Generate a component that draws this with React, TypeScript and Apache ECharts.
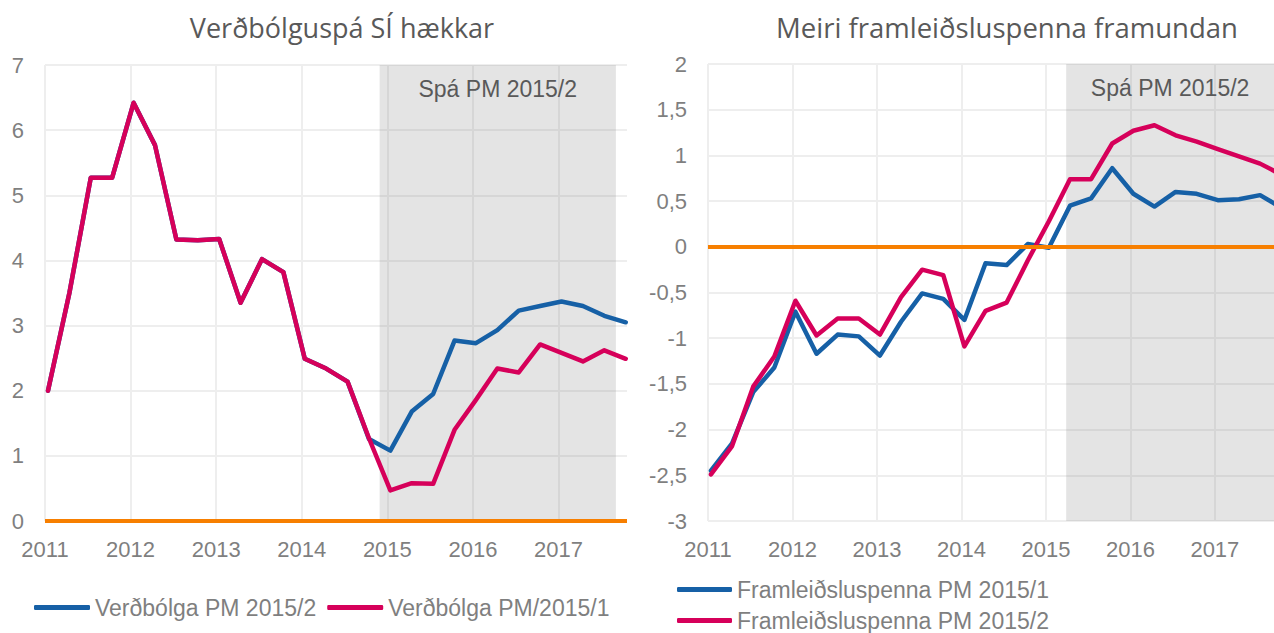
import React, { useEffect, useRef } from 'react';
import * as echarts from 'echarts';

const quarters = [
  '2011Q1', '2011Q2', '2011Q3', '2011Q4',
  '2012Q1', '2012Q2', '2012Q3', '2012Q4',
  '2013Q1', '2013Q2', '2013Q3', '2013Q4',
  '2014Q1', '2014Q2', '2014Q3', '2014Q4',
  '2015Q1', '2015Q2', '2015Q3', '2015Q4',
  '2016Q1', '2016Q2', '2016Q3', '2016Q4',
  '2017Q1', '2017Q2', '2017Q3', '2017Q4',
];

// Left chart: inflation (%)
const inflationPM2015_2 = [
  2.0, 3.5, 5.27, 5.27, 6.42, 5.77, 4.32, 4.31, 4.33, 3.35, 4.02, 3.82, 2.49, 2.34, 2.14, 1.26,
  1.08, 1.68, 1.95, 2.77, 2.73, 2.93, 3.23, 3.3, 3.37, 3.3, 3.15, 3.05,
];
const inflationPM2015_1 = [
  2.0, 3.5, 5.27, 5.27, 6.42, 5.77, 4.32, 4.31, 4.33, 3.35, 4.02, 3.82, 2.49, 2.34, 2.14, 1.27,
  0.47, 0.58, 0.57, 1.4, 1.86, 2.34, 2.28, 2.71, 2.58, 2.45, 2.62, 2.49,
];

// Right chart: output gap (%)
const outputGapPM2015_1 = [
  -2.45, -2.15, -1.59, -1.32, -0.71, -1.17, -0.96, -0.98, -1.19, -0.82, -0.51, -0.57, -0.8, -0.18,
  -0.2, 0.03, -0.01, 0.45, 0.53, 0.86, 0.58, 0.44, 0.6, 0.58, 0.51, 0.52, 0.565, 0.43,
];
const outputGapPM2015_2 = [
  -2.49, -2.18, -1.53, -1.2, -0.59, -0.97, -0.785, -0.785, -0.96, -0.55, -0.25, -0.31, -1.09, -0.7,
  -0.61, -0.15, 0.28, 0.74, 0.74, 1.13, 1.27, 1.33, 1.22, 1.15, 1.07, 0.99, 0.91, 0.79,
];

const leftTitle = 'Verðbólguspá SÍ hækkar';
const rightTitle = 'Meiri framleiðsluspenna framundan';
const forecastLabel = 'Spá PM 2015/2';
const leftNames = ['Verðbólga PM 2015/2', 'Verðbólga PM/2015/1'];
const rightNames = ['Framleiðsluspenna PM 2015/1', 'Framleiðsluspenna PM 2015/2'];

const leftXRange = [2011, 2017.8];
const rightXRange = [2011, 2017.7];
const leftForecastSpan = [2014.91, 2017.67];
const rightForecastSpan = [2015.24, 2017.7];

const BLUE = '#1660A6';
const PINK = '#D6005A';
const ORANGE = '#F77F00';
const GRID = '#EEEEEE';
const LABEL = '#7F7F7F';
const SHADE = 'rgba(128,128,128,0.21)';

function quarterPos(q: string): number {
  const y = Number(q.slice(0, 4));
  const n = Number(q.slice(5));
  return y + (n - 1) / 4 + 0.035;
}
function pairs(vals: number[]) {
  return quarters.map((q, i) => [quarterPos(q), vals[i]]);
}

const labelFont = { fontFamily: 'Liberation Sans', fontSize: 22, color: LABEL };
const legendText = { fontFamily: 'Liberation Sans', fontSize: 23, color: LABEL };

function xAxisFor(gridIndex: number, range: number[]) {
  return {
    type: 'value',
    gridIndex,
    min: range[0],
    max: range[1],
    interval: 1,
    axisLine: { show: false },
    axisTick: { show: false },
    splitLine: { show: true, showMaxLine: false, lineStyle: { color: GRID, width: 2 } },
    axisLabel: {
      ...labelFont,
      margin: 17,
      showMaxLabel: false,
      formatter: (v: number) => (Number.isInteger(v) ? String(v) : ''),
    },
  };
}

function legendFor(names: string[], left: number, top: number, itemWidth: number) {
  return {
    left,
    top,
    padding: 0,
    itemWidth,
    itemHeight: 5,
    icon: 'roundRect',
    itemGap: 11,
    selectedMode: false,
    textStyle: legendText,
    data: names,
  };
}

export default function App() {
  const ref = useRef<HTMLDivElement>(null);
  useEffect(() => {
    if (!ref.current) return;
    const chart = echarts.init(ref.current, undefined, { renderer: 'svg' });
    const lineSeries = (name: string, data: number[], color: string, axis: number) => ({
      type: 'line',
      name,
      xAxisIndex: axis,
      yAxisIndex: axis,
      data: pairs(data),
      showSymbol: false,
      symbol: 'none',
      z: 2,
      color,
      lineStyle: { color, width: 4.5, cap: 'round', join: 'round' },
      emphasis: { disabled: true },
    });
    const zeroLine = (axis: number) => ({
      type: 'line',
      name: 'zero' + axis,
      xAxisIndex: axis,
      yAxisIndex: axis,
      data: [],
      z: 1,
      markLine: {
        silent: true,
        symbol: ['none', 'none'],
        label: { show: false },
        lineStyle: { color: ORANGE, width: 4, type: 'solid' },
        emphasis: { disabled: true },
        data: [{ yAxis: 0 }],
      },
    });
    const shade = (axis: number, span: number[], yTop: number, yBottom: number) => ({
      type: 'line',
      name: 'shade' + axis,
      xAxisIndex: axis,
      yAxisIndex: axis,
      data: [],
      z: 4,
      markArea: {
        silent: true,
        itemStyle: { color: SHADE },
        emphasis: { disabled: true },
        label: {
          show: true,
          position: 'insideTop',
          distance: 12,
          color: '#595959',
          fontSize: 23,
          fontFamily: 'Liberation Sans',
        },
        data: [[{ xAxis: span[0], yAxis: yTop, name: forecastLabel }, { xAxis: span[1], yAxis: yBottom }]],
      },
    });
    chart.setOption({
      animation: false,
      grid: [
        { left: 45, top: 65, width: 582, height: 456 },
        { left: 708, top: 64, width: 566, height: 457 },
      ],
      xAxis: [xAxisFor(0, leftXRange), xAxisFor(1, rightXRange)],
      yAxis: [
        {
          type: 'value',
          gridIndex: 0,
          min: 0,
          max: 7,
          interval: 1,
          axisLine: { show: false },
          axisTick: { show: false },
          splitLine: { show: true, lineStyle: { color: GRID, width: 2 } },
          axisLabel: { ...labelFont, margin: 21 },
        },
        {
          type: 'value',
          gridIndex: 1,
          min: -3,
          max: 2,
          interval: 0.5,
          axisLine: { show: false },
          axisTick: { show: false },
          splitLine: { show: true, lineStyle: { color: GRID, width: 2 } },
          axisLabel: { ...labelFont, margin: 21, formatter: (v: number) => String(v).replace('.', ',') },
        },
      ],
      legend: [
        legendFor(leftNames, 34, 596, 56),
        legendFor([rightNames[0]], 677, 578, 55),
        legendFor([rightNames[1]], 677, 609, 55),
      ],
      graphic: [
        {
          type: 'text',
          x: 342,
          y: 27,
          style: {
            text: leftTitle,
            fill: '#595959',
            font: '27px "Open Sans"',
            align: 'center',
            verticalAlign: 'middle',
          },
        },
        {
          type: 'text',
          x: 1007,
          y: 27,
          style: {
            text: rightTitle,
            fill: '#595959',
            font: '27.5px "Open Sans"',
            align: 'center',
            verticalAlign: 'middle',
          },
        },
      ],
      series: [
        zeroLine(0),
        lineSeries(leftNames[0], inflationPM2015_2, BLUE, 0),
        lineSeries(leftNames[1], inflationPM2015_1, PINK, 0),
        shade(0, leftForecastSpan, 7, 0),
        zeroLine(1),
        lineSeries(rightNames[0], outputGapPM2015_1, BLUE, 1),
        lineSeries(rightNames[1], outputGapPM2015_2, PINK, 1),
        shade(1, rightForecastSpan, 2, -3),
      ],
    });
    return () => chart.dispose();
  }, []);
  return (
    <div
      ref={ref}
      style={{ position: 'fixed', left: 0, top: 0, width: 1274, height: 633, background: '#fff' }}
    />
  );
}
